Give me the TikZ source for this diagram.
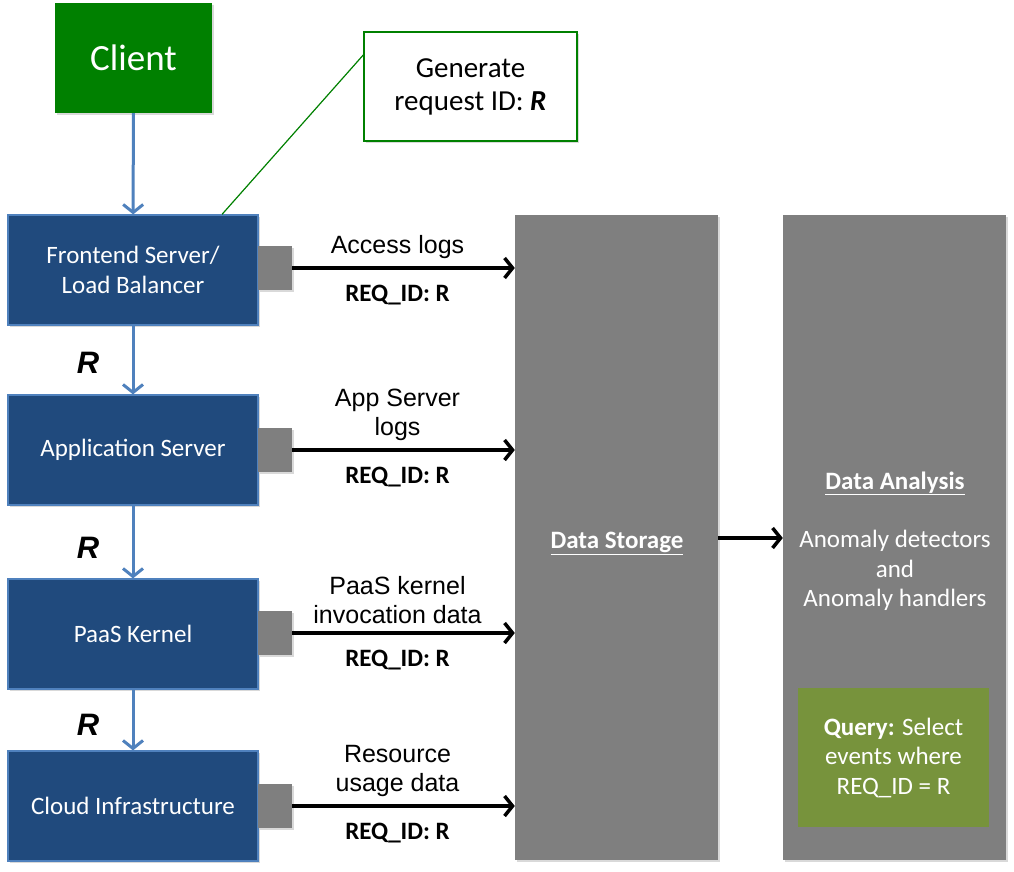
\documentclass[tikz,border=0pt]{standalone}
\usepackage{fontspec}
\setmainfont{Carlito}
\newfontfamily\arialfont{Liberation Sans}
\usetikzlibrary{arrows.meta,shadows}
\definecolor{clientgreen}{RGB}{0,128,0}
\definecolor{boxblue}{RGB}{32,74,125}
\definecolor{edgeblue}{RGB}{79,129,189}
\definecolor{storegray}{RGB}{127,127,127}
\definecolor{querygreen}{RGB}{119,147,60}

\begin{document}
\begin{tikzpicture}[x=1pt,y=-1pt,
  soft/.style={drop shadow={shadow xshift=2pt,shadow yshift=-2pt,opacity=0.3}},
  tier/.style={draw=edgeblue,line width=1.2pt,fill=boxblue,text=white,minimum width=250pt,minimum height=110pt,align=center,font=\fontsize{25}{30}\selectfont,soft},
  port/.style={fill=storegray,minimum width=34pt,minimum height=44pt,soft},
  column/.style={fill=storegray,minimum height=645pt,soft},
  pipe/.style={line width=3pt,draw=edgeblue,-{Straight Barb[length=8pt,width=20pt]}},
  feed/.style={line width=3.5pt,-{Straight Barb[length=8pt,width=20pt]}},
  lbl/.style={font=\arialfont\fontsize{25}{29}\selectfont,align=center},
  tag/.style={font=\bfseries\fontsize{25}{29}\selectfont},
  rlbl/.style={font=\arialfont\bfseries\itshape\fontsize{31}{31}\selectfont}]
\tikzstyle{every node}+=[inner sep=0pt]
\useasboundingbox (0,0) rectangle (1014,872);

% client and request id note
\node[fill=clientgreen,text=white,minimum width=157pt,minimum height=110pt,font=\fontsize{37}{42}\selectfont,soft] (client) at (133.5,58) {Client};
\node[draw=clientgreen,line width=1.5pt,fill=white,minimum width=213pt,minimum height=109pt,align=center,font=\fontsize{29}{33}\selectfont,soft] (gen) at (470.5,86.5) {Generate\\request ID: \textbf{\textit{R}}};

% tiers
\node[tier] (fe) at (133,270) {Frontend Server/\\Load Balancer};
\node[tier] (app) at (133,450) {Application Server};
\node[tier] (paas) at (133,634) {PaaS Kernel};
\node[tier] (cloud) at (133,806) {Cloud Infrastructure};
\node[port] (fesq) at (275,268) {};
\node[port] (appsq) at (275,450) {};
\node[port] (paassq) at (275,633) {};
\node[port] (cloudsq) at (275,806) {};

% storage and analysis
\node[column,minimum width=203pt] (store) at (616.5,537.5) {};
\node[text=white,font=\fontsize{25}{30}\selectfont] (storetext) at (617,543) {\underline{\textbf{Data Storage}}};
\node[column,minimum width=223pt] (ana) at (894.5,537.5) {};
\node[text=white,align=center,font=\fontsize{25}{29.5}\selectfont] (anatext) at (895,541) {\underline{\textbf{Data Analysis}}\\[29pt]Anomaly detectors\\and\\Anomaly handlers};
\node[fill=querygreen,text=white,minimum width=191pt,minimum height=139pt,align=center,font=\fontsize{25}{29.5}\selectfont,soft] (query) at (893.5,757.5) {\textbf{Query:} Select\\events where\\REQ\_ID = R};

% request path
\draw[pipe] (client) -- (fe);
\draw[pipe] (fe) -- (app);
\draw[pipe] (app) -- (paas);
\draw[pipe] (paas) -- (cloud);
\node[rlbl] (r1) at (88,363) {R};
\node[rlbl] (r2) at (88,548) {R};
\node[rlbl] (r3) at (88,725) {R};
\draw[clientgreen,line width=1.2pt] ([yshift=31.5pt]gen.west) -- ([xshift=89pt]fe.north);

% logs to storage
\draw[feed] (fesq.east) -- (fesq.east -| store.west)
  node[lbl,midway,above=8pt,xshift=-6pt] {Access logs}
  node[tag,midway,below=15pt,xshift=-6pt] {REQ\_ID: R};
\draw[feed] (appsq.east) -- (appsq.east -| store.west)
  node[lbl,midway,above=8pt,xshift=-6pt] {App Server\\logs}
  node[tag,midway,below=15pt,xshift=-6pt] {REQ\_ID: R};
\draw[feed] (paassq.east) -- (paassq.east -| store.west)
  node[lbl,midway,above=8pt,xshift=-6pt] {PaaS kernel\\invocation data}
  node[tag,midway,below=15pt,xshift=-6pt] {REQ\_ID: R};
\draw[feed] (cloudsq.east) -- (cloudsq.east -| store.west)
  node[lbl,midway,above=8pt,xshift=-6pt] {Resource\\usage data}
  node[tag,midway,below=15pt,xshift=-6pt] {REQ\_ID: R};
\draw[feed] (store.east |- 0,538) -- (ana.west |- 0,538);
\end{tikzpicture}
\end{document}
